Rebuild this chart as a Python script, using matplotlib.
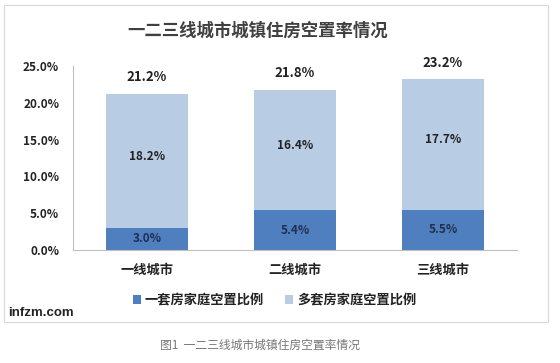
import matplotlib.pyplot as plt
from matplotlib.patches import Rectangle

plt.rcParams['font.family'] = ['Noto Sans CJK SC', 'DejaVu Sans']

categories = ['一线城市', '二线城市', '三线城市']
single_home = [3.0, 5.4, 5.5]
multi_home = [18.2, 16.4, 17.7]
totals = [21.2, 21.8, 23.2]
yticks = [0, 5, 10, 15, 20, 25]

dark = '#4f7fbe'
light = '#b8cce4'
txt = '#222222'

fig = plt.figure(figsize=(5.6, 3.63), dpi=100)
fig.patch.set_facecolor('white')
fig.patches.append(Rectangle((4 / 560, 1 - 322 / 363), 544 / 560, 317 / 363,
                             transform=fig.transFigure, fill=False,
                             edgecolor='#d9d9d9', lw=0.8))

ax = fig.add_axes([73 / 560, 1 - 250 / 363, 444 / 560, 184 / 363])
x = range(len(categories))
b1 = ax.bar(x, single_home, width=0.56, color=dark, label='一套房家庭空置比例')
b2 = ax.bar(x, multi_home, width=0.56, bottom=single_home, color=light,
            label='多套房家庭空置比例')

for i in x:
    ax.text(i, single_home[i] / 2, f'{single_home[i]:.1f}%', ha='center',
            va='center', fontsize=8.5, fontweight='bold', color='#1f3050')
    ax.text(i, single_home[i] + multi_home[i] / 2 + 0.6, f'{multi_home[i]:.1f}%',
            ha='center', va='center', fontsize=8.5, fontweight='bold', color=txt)
    ax.text(i, totals[i] + 1.3, f'{totals[i]:.1f}%', ha='center', va='bottom',
            fontsize=9.5, fontweight='bold', color=txt)

ax.set_xlim(-0.5, 2.5)
ax.set_ylim(0, 25)
ax.set_yticks(yticks)
ax.set_yticklabels([f'{v:.1f}%' for v in yticks], fontsize=8.5,
                   fontweight='bold', color=txt)
ax.set_xticks(list(x))
ax.set_xticklabels(categories, fontsize=9.5, fontweight='bold', color=txt)
ax.tick_params(axis='both', length=0, pad=10)
ax.tick_params(axis='x', pad=9)
for s in ['top', 'right']:
    ax.spines[s].set_visible(False)
for s in ['left', 'bottom']:
    ax.spines[s].set_color('#bfbfbf')
    ax.spines[s].set_linewidth(0.8)

fig.text(258 / 560, 1 - 31 / 363, '一二三线城市城镇住房空置率情况', ha='center',
         va='center', fontsize=12.5, fontweight='bold', color='#404040')

leg = fig.legend(handles=[b1, b2], loc='center', bbox_to_anchor=(0.49, 1 - 300 / 363),
                 ncol=2, frameon=False, fontsize=9.5, handlelength=0.6,
                 handleheight=0.6, handletextpad=0.3, columnspacing=1.6)
for t in leg.get_texts():
    t.set_fontweight('bold')
    t.set_color(txt)

fig.text(8 / 560, 1 - 313 / 363, 'infzm.com', ha='left', va='center',
         fontsize=9.5, fontweight='bold', color='#222222', family='Liberation Sans')

fig.text(260 / 560, 1 - 345 / 363, '图1  一二三线城市城镇住房空置率情况', ha='center',
         va='center', fontsize=8.5, color='#777777')

fig.savefig('out.png', dpi=100, facecolor='white')
